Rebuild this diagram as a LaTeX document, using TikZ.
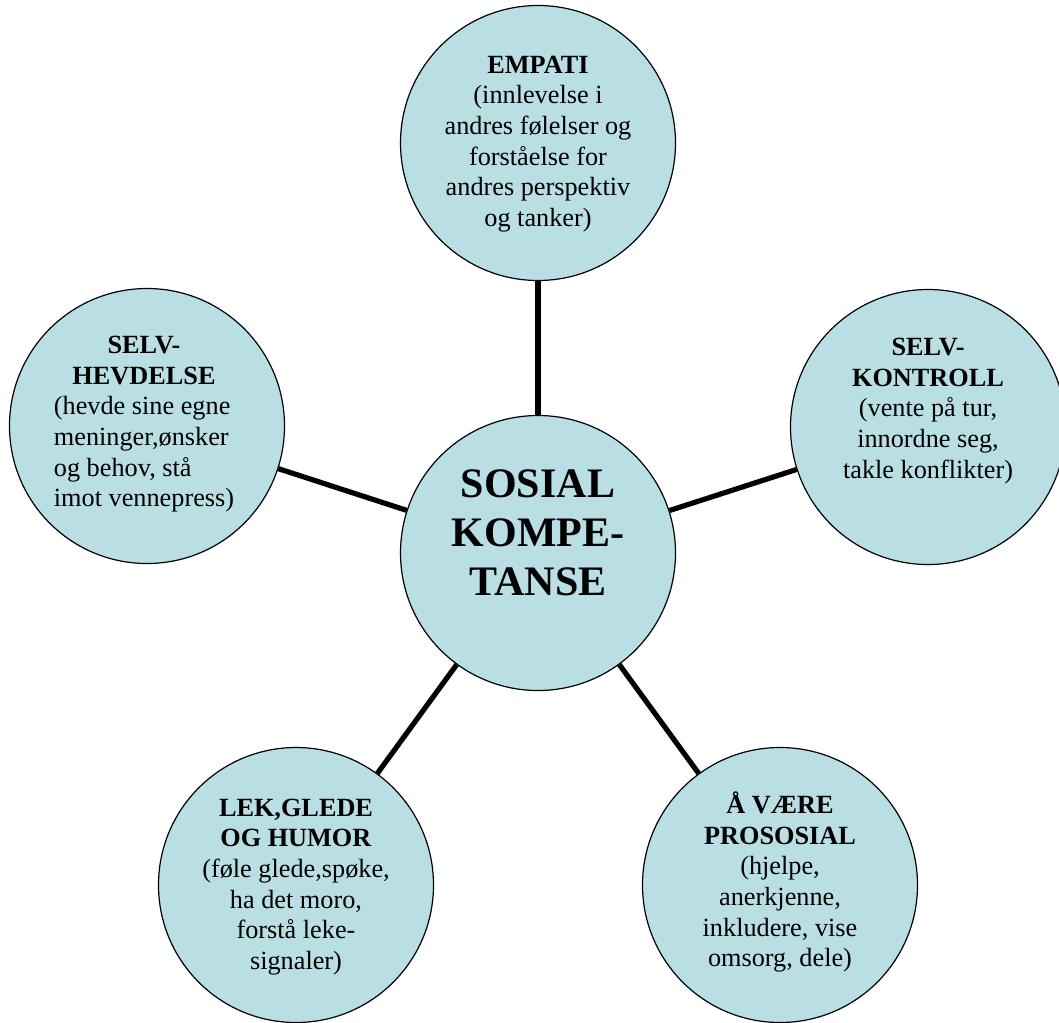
\documentclass[tikz,border=0pt]{standalone}
\usepackage{fontspec}
\setmainfont{Liberation Serif}
\definecolor{circfill}{RGB}{185,223,228}
\begin{document}
\begin{tikzpicture}[x=0.75pt,y=-0.75pt,
  bubble/.style={circle,draw=black,line width=0.9pt,fill=circfill,minimum size=206.25pt,inner sep=0pt},
  txt/.style={align=center,font=\fontsize{19.7}{23}\selectfont,inner sep=0pt},
  bigtxt/.style={align=center,font=\fontsize{31.5}{36.75}\selectfont\bfseries,inner sep=0pt},
  link/.style={line width=3.9pt}]
\useasboundingbox (0,0) rectangle (1059,1022);
\clip (0,0) rectangle (1059,1022);
\node[bubble] (c)  at (538,553) {};
\node[bubble] (t)  at (538,143) {};
\node[bubble] (r)  at (928,427) {};
\node[bubble] (l)  at (147,426) {};
\node[bubble] (bl) at (296,885) {};
\node[bubble] (br) at (780,885) {};
\draw[link] (c) -- (t);
\draw[link] (c) -- (r);
\draw[link] (c) -- (l);
\draw[link] (c) -- (bl);
\draw[link] (c) -- (br);
\node[bigtxt] (ctext) at (538,533) {SOSIAL\\KOMPE-\\TANSE};
\node[txt] (ttext) at (538,144) {\textbf{EMPATI}\\(innlevelse i\\andres følelser og\\forståelse for\\andres perspektiv\\og tanker)};
\node[txt] (rtext) at (928,411) {\textbf{SELV-}\\\textbf{KONTROLL}\\(vente på tur,\\innordne seg,\\takle konflikter)};
\node[txt] (ltext) at (144,426) {\textbf{SELV-}\\\textbf{HEVDELSE}\\\begin{tabular}[t]{@{}l@{}}(hevde sine egne\\meninger,ønsker\\og behov, stå\\imot vennepress)\end{tabular}};
\node[txt] (bltext) at (296,887) {\textbf{LEK,GLEDE}\\\textbf{OG HUMOR}\\(føle glede,spøke,\\ha det moro,\\forstå leke-\\signaler)};
\node[txt] (brtext) at (780,882) {\textbf{Å VÆRE}\\\textbf{PROSOSIAL}\\(hjelpe,\\anerkjenne,\\inkludere, vise\\omsorg, dele)};
\end{tikzpicture}
\end{document}
